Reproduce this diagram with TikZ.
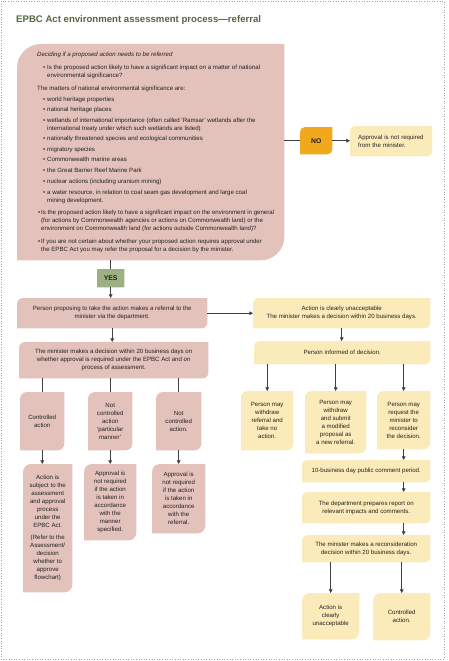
\documentclass[tikz,border=0pt]{standalone}
\usepackage{fontspec}
\setmainfont{Liberation Sans}
\usetikzlibrary{arrows.meta,backgrounds,calc}
\definecolor{pinkc}{HTML}{E3C2BC}
\definecolor{yelc}{HTML}{FCEBBA}
\definecolor{noc}{HTML}{F2A81D}
\definecolor{yesc}{HTML}{9CB084}
\definecolor{lc}{HTML}{404040}
\definecolor{txc}{HTML}{202020}
\definecolor{titlec}{HTML}{55663F}
\newcommand\bfnt{\fontsize{6.1}{8}\selectfont}
\newcommand\leafbg[3]{%
  \fill[#2] (#1.south west) -- ([yshift=-#3pt]#1.north west)
    arc[start angle=180,end angle=90,radius=#3pt] -- (#1.north east)
    -- ([yshift=#3pt]#1.south east)
    arc[start angle=0,end angle=-90,radius=#3pt] -- cycle;}
\newcommand\boxnode[8]{%
  \node[bx,minimum width=#4pt-#2pt,minimum height=#5pt-#3pt] (#1) at (#2,#3) {#8};
  \begin{pgfonlayer}{background}\leafbg{#1}{#6}{#7}\end{pgfonlayer}}
\newcommand\itA[1]{\hspace*{6pt}\makebox[4pt][l]{\textbullet}#1}
\newcommand\itB[1]{\hspace*{1pt}\makebox[3pt][l]{\textbullet}#1}
\tikzset{
  bx/.style={inner sep=0pt,align=center,anchor=north west,font=\bfnt,text=txc},
  arr/.style={draw=lc,line width=0.6pt,-{Triangle[length=3.6pt,width=3.6pt]}},
  ln/.style={draw=lc,line width=0.6pt}
}
\begin{document}
\begin{tikzpicture}[x=1pt,y=-1pt]
\useasboundingbox (0,0) rectangle (448,661);
\draw[gray!70,dotted,line width=0.6pt] (1,1) rectangle (444,659);
\node[anchor=base west,inner sep=0pt,text=titlec,font=\fontsize{9.6}{11}\selectfont\bfseries] (title) at (16,23) {EPBC Act environment assessment process—referral};

% big question box
\boxnode{q}{17}{44}{284}{260}{pinkc}{24}{}
\node[anchor=north west,inner sep=0pt,align=left,font=\bfnt,text=txc] (qtext) at (37,51.5) {%
\textit{Deciding if a proposed action needs to be referred}\\[5pt]
\itA{Is the proposed action likely to have a significant impact on a matter of national}\\
\hspace*{10pt}environmental significance?\\[5pt]
The matters of national environmental significance are:\\[3pt]
\itA{world heritage properties}\\[2.3pt]
\itA{national heritage places}\\[2.8pt]
\itA{wetlands of international importance (often called ‘Ramsar’ wetlands after the}\\
\hspace*{10pt}international treaty under which such wetlands are listed)\\[2.3pt]
\itA{nationally threatened species and ecological communities}\\[2.8pt]
\itA{migratory species}\\[2.3pt]
\itA{Commonwealth marine areas}\\[2.8pt]
\itA{the Great Barrier Reef Marine Park}\\[2.8pt]
\itA{nuclear actions (including uranium mining)}\\[2.8pt]
\itA{a water resource, in relation to coal seam gas development and large coal}\\
\hspace*{10pt}mining development.\\[4pt]
\itB{Is the proposed action likely to have a significant impact on the environment in general}\\
\hspace*{4pt}(for actions by Commonwealth agencies or actions on Commonwealth land) or the\\
\hspace*{4pt}environment on Commonwealth land (for actions outside Commonwealth land)?\\[5pt]
\itB{If you are not certain about whether your proposed action requires approval under}\\
\hspace*{4pt}the EPBC Act you may refer the proposal for a decision by the minister.};

\boxnode{no}{300}{127}{332}{154}{noc}{5}{\fontsize{6.8}{8}\selectfont\bfseries NO}
\node[anchor=north west,inner xsep=8pt,inner ysep=0pt,text width=66pt,minimum height=30pt,align=left,font=\bfnt,text=txc] (appr) at (350,126) {Approval is not required\\from the minister.};
\begin{pgfonlayer}{background}\leafbg{appr}{yelc}{5}\end{pgfonlayer}
\boxnode{yes}{97}{269}{124}{287}{yesc}{0.5}{\fontsize{6.8}{8}\selectfont\bfseries YES}

\boxnode{ref}{17}{298}{207}{328}{pinkc}{6}{Person proposing to take the action makes a referral to the\\minister via the department.}
\boxnode{unacc}{253}{298}{430}{328}{yelc}{6}{Action is clearly unacceptable\\The minister makes a decision within 20 business days.}
\boxnode{min}{19}{342}{208}{378}{pinkc}{6}{The minister makes a decision within 20 business days on\\whether approval is required under the EPBC Act and on\\process of assessment.}
\boxnode{ca}{20}{392}{64}{450}{pinkc}{7}{Controlled\\action}
\boxnode{ncpm}{88}{392}{132}{450}{pinkc}{7}{Not\\controlled\\action\\‘particular\\manner’}
\boxnode{nc}{156}{392}{201}{450}{pinkc}{7}{Not\\controlled\\action.}
\boxnode{ca2}{23}{464}{72}{592}{pinkc}{8}{Action is\\subject to the\\assessment\\and approval\\process\\under the\\EPBC Act.\\[4pt](Refer to the\\Assessment/\\decision\\whether to\\approve\\flowchart)}
\boxnode{ncpm2}{84}{464}{136}{540}{pinkc}{8}{Approval is\\not required\\if the action\\is taken in\\accordance\\with the\\manner\\specified.}
\boxnode{nc2}{152}{464}{205}{533}{pinkc}{8}{Approval is\\not required\\if the action\\is taken in\\accordance\\with the\\referral.}

\boxnode{inf}{254}{341}{430}{364}{yelc}{5}{Person informed of decision.}
\boxnode{w1}{241}{391}{293}{450}{yelc}{7}{Person may\\withdraw\\referral and\\take no\\action.}
\boxnode{w2}{305}{391}{366}{453}{yelc}{7}{Person may\\withdraw\\and submit\\a modified\\proposal as\\a new referral.}
\boxnode{w3}{377}{391}{430}{449}{yelc}{7}{Person may\\request the\\minister to\\reconsider\\the decision.}
\boxnode{pub}{302}{460}{430}{482}{yelc}{5}{10-business day public comment period.}
\boxnode{dep}{302}{492}{430}{523}{yelc}{5}{The department prepares report on\\relevant impacts and comments.}
\boxnode{rec}{302}{535}{430}{562}{yelc}{5}{The minister makes a reconsideration\\decision within 20 business days.}
\boxnode{fu}{302}{593}{359}{639}{yelc}{8}{Action is\\clearly\\unacceptable}
\boxnode{fc}{373}{593}{430}{640}{yelc}{8}{Controlled\\action.}

% connectors
\draw[ln] (q.east |- no.west) -- (no.west);
\draw[arr] (no.east) -- (appr.west |- no.east);
\draw[ln] (yes.north |- q.south) -- (yes.north);
\draw[arr] (yes.south) -- (yes.south |- ref.north);
\draw[arr] (ref.east) -- (unacc.west);
\draw[arr] (ref.south) -- (ref.south |- min.north);
\draw[ln] (min.south -| ca.north) -- (ca.north);
\draw[ln] (min.south -| ncpm.north) -- (ncpm.north);
\draw[ln] (min.south -| nc.north) -- (nc.north);
\draw[arr] (ca.south) -- (ca.south |- ca2.north);
\draw[arr] (ncpm.south) -- (ncpm.south |- ncpm2.north);
\draw[arr] (nc.south) -- (nc.south |- nc2.north);
\draw[arr] (unacc.south) -- (unacc.south |- inf.north);
\draw[arr] (inf.south -| w1.north) -- (w1.north);
\draw[arr] (inf.south -| w2.north) -- (w2.north);
\draw[arr] (inf.south -| w3.north) -- (w3.north);
\draw[arr] (w3.south) -- (w3.south |- pub.north);
\draw[arr] (pub.south -| w3.south) -- (dep.north -| w3.south);
\draw[arr] (dep.south -| w3.south) -- (rec.north -| w3.south);
\draw[arr] (rec.south -| fu.north) -- (fu.north);
\draw[arr] (rec.south -| fc.north) -- (fc.north);
\end{tikzpicture}
\end{document}
